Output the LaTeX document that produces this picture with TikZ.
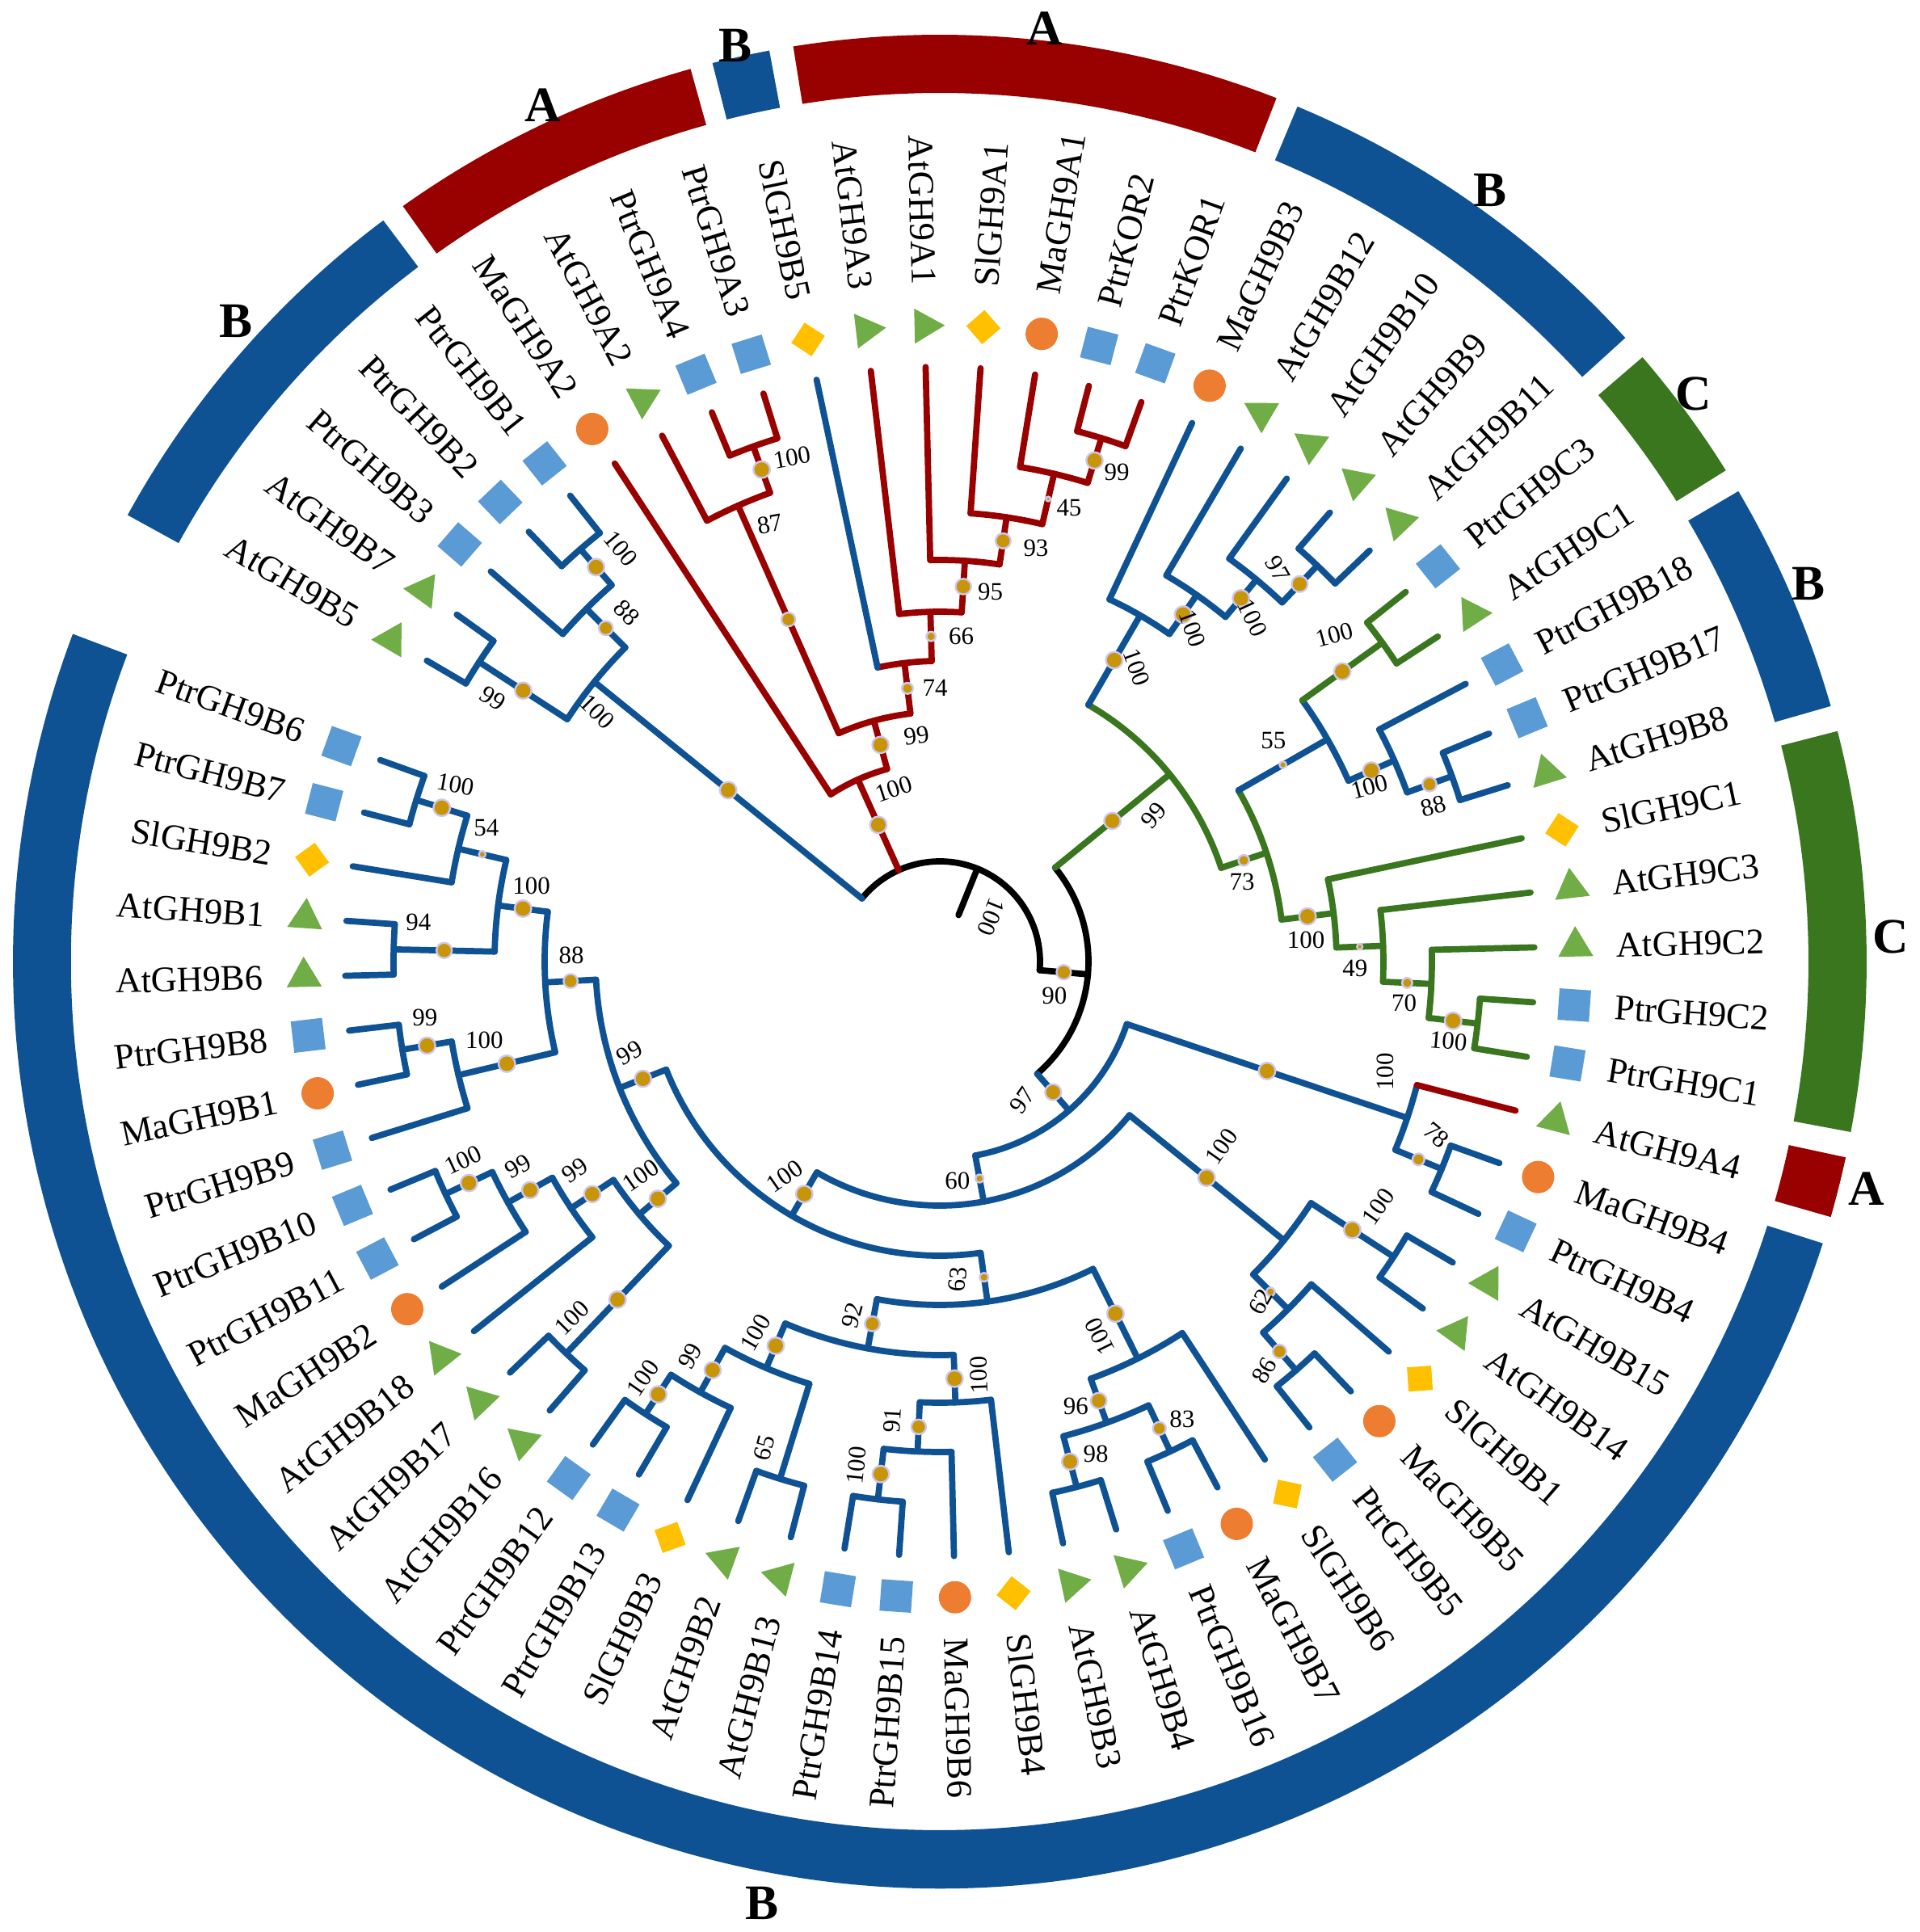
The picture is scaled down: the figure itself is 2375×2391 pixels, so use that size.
\documentclass[tikz,border=0pt]{standalone}
\usepackage{fontspec}
\setmainfont{Liberation Serif}
\usetikzlibrary{shapes.geometric}
\definecolor{cladeB}{RGB}{15,82,148}
\definecolor{cladeA}{RGB}{153,0,0}
\definecolor{cladeC}{RGB}{57,118,30}
\definecolor{atcol}{RGB}{112,173,71}
\definecolor{ptrcol}{RGB}{91,155,213}
\definecolor{slcol}{RGB}{255,192,0}
\definecolor{macol}{RGB}{237,125,49}
\definecolor{bsgold}{RGB}{200,148,8}
\definecolor{bshalo}{RGB}{205,200,238}
\tikzset{
  branch/.style={line width=2.2pt,line cap=round},
  leaf/.style={inner sep=0pt,font=\fontsize{12.65}{14}\selectfont},
  bsl/.style={inner sep=0pt,font=\fontsize{8.8}{10}\selectfont},
  clab/.style={inner sep=0pt,font=\fontsize{17.5}{20}\selectfont\bfseries},
  mkAt/.style={regular polygon,regular polygon sides=3,fill=atcol,minimum size=0.5cm,inner sep=0pt},
  mkPtr/.style={rectangle,fill=ptrcol,minimum size=0.39cm,inner sep=0pt},
  mkSl/.style={rectangle,fill=slcol,minimum size=0.30cm,inner sep=0pt,rotate=45},
  mkMa/.style={circle,fill=macol,minimum size=0.40cm,inner sep=0pt},
}
% #1 branch colour, #2 arc colour, #3 angle, #4 parent radius, #5 radius,
% #6/#7 arc ends, #8 support (0 = no dot)
\newcommand{\clade}[8]{%
  \draw[branch,#1] (#3:#4) -- (#3:#5);
  \draw[branch,#2] (#6:#5) arc[start angle=#6,end angle=#7,radius=#5];
  \ifnum#8>0\relax
    \pgfmathsetmacro\dotr{1+8*(#8-40)/60}
    \pgfmathsetmacro\halor{\dotr+2.5}
    \fill[bshalo] (#3:{(#4+#5)/2}) circle[radius=\halor];
    \fill[bsgold] (#3:{(#4+#5)/2}) circle[radius=\dotr];
  \fi}
% ring segment, r 1075..1147
\newcommand{\band}[3]{%
  \fill[#1] (#2:1075) arc[start angle=#2,end angle=#3,radius=1075]
    -- (#3:1147) arc[start angle=#3,end angle=#2,radius=1147] -- cycle;}
\begin{document}
\begin{tikzpicture}[x=0.01cm,y=0.01cm]
\useasboundingbox (-1163,-1201) rectangle (1212,1190);

% outer ring
\band{cladeB}{126.9}{151.2}
\band{cladeA}{105.6}{125.4}
\band{cladeB}{100.6}{104.2}
\band{cladeA}{68.7}{99.1}
\band{cladeB}{42.3}{67.3}
\band{cladeC}{32.0}{40.7}
\band{cladeB}{16.0}{30.5}
\band{cladeC}{-10.6}{14.4}
\band{cladeA}{-16.0}{-12.2}
\band{cladeB}{-200.7}{-17.7}
\foreach \a/\r/\t [count=\i] in {137.7/1177/B,114.9/1168/A,102.6/1162/B,83.6/1162/A,
  54.5/1172/B,37/1168/C,23.5/1172/B,1.5/1177/C,-13.8/1181/A,-100.7/1186/B}
  \node[clab] (group\i) at (\a:\r) {\t};

% root
\draw[branch,black] (141.00:124) arc[start angle=141.00,end angle=-4.94,radius=124];
\draw[branch,black] (68.03:124) -- (68.03:62);
\clade{black}{black}{-4.94}{124}{184}{39.18}{-49.06}{90}

% B, upper left
\clade{cladeB}{cladeB}{141.00}{124}{550}{146.96}{135.04}{100}
\clade{cladeB}{cladeB}{146.96}{550}{680}{149.60}{144.31}{99}
\clade{cladeB}{cladeB}{135.04}{550}{618}{139.01}{131.07}{88}
\clade{cladeB}{cladeB}{131.07}{618}{677}{133.72}{128.42}{100}

% A, top
\clade{cladeA}{cladeA}{114.22}{124}{247}{123.13}{105.31}{100}
\clade{cladeA}{cladeA}{105.31}{247}{309}{113.87}{96.75}{99}
\clade{cladeA}{cladeA}{113.87}{309}{617}{117.84}{109.90}{87}
\clade{cladeA}{cladeA}{109.90}{617}{678}{112.54}{107.25}{100}
\clade{cladeA}{cladeA}{96.75}{309}{372}{101.95}{91.54}{74}
\clade{cladeA}{cladeA}{91.54}{372}{433}{96.66}{86.41}{66}
\clade{cladeA}{cladeA}{86.41}{433}{497}{91.37}{81.44}{95}
\clade{cladeA}{cladeA}{81.44}{497}{556}{86.07}{76.81}{93}
\clade{cladeA}{cladeA}{76.81}{556}{620}{80.78}{72.84}{45}
\clade{cladeA}{cladeA}{72.84}{620}{678}{75.48}{70.19}{99}

% C and the B clades beside it
\clade{cladeC}{cladeC}{39.18}{184}{367}{59.94}{18.42}{99}
\clade{cladeB}{cladeB}{59.94}{367}{495}{64.90}{54.97}{100}
\clade{cladeB}{cladeB}{54.97}{495}{554}{59.60}{50.34}{100}
\clade{cladeB}{cladeB}{50.34}{554}{614}{54.31}{46.37}{100}
\clade{cladeB}{cladeB}{46.37}{614}{677}{49.01}{43.72}{97}
\clade{cladeC}{cladeC}{18.42}{367}{426}{29.83}{7.00}{73}
\clade{cladeB}{cladeB}{29.83}{426}{553}{35.78}{23.87}{55}
\clade{cladeC}{cladeC}{35.78}{553}{675}{38.43}{33.13}{100}
\clade{cladeB}{cladeB}{23.87}{553}{615}{27.84}{19.90}{100}
\clade{cladeB}{cladeB}{19.90}{615}{674}{22.54}{17.25}{88}
\clade{cladeC}{cladeC}{7.00}{426}{491}{11.96}{2.03}{100}
\clade{cladeC}{cladeC}{2.03}{491}{549}{6.66}{-2.61}{49}
\clade{cladeC}{cladeC}{-2.61}{549}{609}{1.37}{-6.58}{70}
\clade{cladeC}{cladeC}{-6.58}{609}{670}{-3.93}{-9.22}{100}

% B, lower half
\clade{cladeB}{cladeB}{-49.06}{184}{244}{-18.49}{-79.63}{97}
\clade{cladeB}{cladeB}{-18.49}{244}{610}{-14.51}{-22.46}{100}
\clade{cladeB}{cladeB}{-22.46}{610}{672}{-19.81}{-25.10}{78}
\clade{cladeB}{cladeB}{-79.63}{244}{302}{-39.01}{-120.24}{60}
\clade{cladeB}{cladeB}{-39.01}{302}{548}{-33.05}{-44.96}{100}
\clade{cladeB}{cladeB}{-33.05}{548}{670}{-30.40}{-35.69}{100}
\clade{cladeB}{cladeB}{-44.96}{548}{609}{-40.98}{-48.93}{62}
\clade{cladeB}{cladeB}{-48.93}{609}{671}{-46.28}{-51.57}{86}
\clade{cladeB}{cladeB}{-120.24}{302}{364}{-82.02}{-158.45}{100}
\clade{cladeB}{cladeB}{-82.02}{364}{425}{-63.49}{-100.55}{63}
\clade{cladeB}{cladeB}{-63.49}{425}{549}{-56.87}{-70.11}{100}
\clade{cladeB}{cladeB}{-70.11}{549}{607}{-64.81}{-75.40}{96}
\clade{cladeB}{cladeB}{-64.81}{607}{670}{-62.16}{-67.45}{83}
\clade{cladeB}{cladeB}{-75.40}{607}{672}{-72.75}{-78.04}{98}
\clade{cladeB}{cladeB}{-100.55}{425}{487}{-87.97}{-113.12}{92}
\clade{cladeB}{cladeB}{-87.97}{487}{546}{-83.34}{-92.60}{100}
\clade{cladeB}{cladeB}{-92.60}{546}{607}{-88.63}{-96.57}{91}
\clade{cladeB}{cladeB}{-96.57}{607}{670}{-93.92}{-99.22}{100}
\clade{cladeB}{cladeB}{-113.12}{487}{547}{-107.16}{-119.07}{100}
\clade{cladeB}{cladeB}{-107.16}{547}{670}{-104.51}{-109.81}{0}
\clade{cladeB}{cladeB}{-119.07}{547}{610}{-115.10}{-123.04}{99}
\clade{cladeB}{cladeB}{-123.04}{610}{668}{-120.39}{-125.69}{100}
\clade{cladeB}{cladeB}{-158.45}{364}{426}{-139.92}{-176.98}{99}
\clade{cladeB}{cladeB}{-139.92}{426}{486}{-133.63}{-146.21}{100}
\clade{cladeB}{cladeB}{-133.63}{486}{670}{-130.98}{-136.28}{100}
\clade{cladeB}{cladeB}{-146.21}{486}{549}{-141.57}{-150.84}{99}
\clade{cladeB}{cladeB}{-150.84}{549}{612}{-146.86}{-154.81}{99}
\clade{cladeB}{cladeB}{-154.81}{612}{676}{-152.16}{-157.45}{100}
\clade{cladeB}{cladeB}{-176.98}{426}{489}{-166.72}{-187.24}{88}
\clade{cladeB}{cladeB}{-166.72}{489}{612}{-162.75}{-170.69}{100}
\clade{cladeB}{cladeB}{-170.69}{612}{674}{-168.04}{-173.33}{99}
\clade{cladeB}{cladeB}{-187.24}{489}{551}{-181.28}{-193.19}{100}
\clade{cladeB}{cladeB}{-181.28}{551}{676}{-178.63}{-183.92}{94}
\clade{cladeB}{cladeB}{-193.19}{551}{612}{-189.22}{-197.16}{54}
\clade{cladeB}{cladeB}{-197.16}{612}{678}{-194.51}{-199.80}{100}

% support values
\foreach \a/\r/\t/\v [count=\i] in {
  40.7/84/-112/100, -16.5/148/0/90, -59.3/200/55/97,
  143.9/525/-45/100, 131.9/580/-45/88, 127.7/646/-50/100, 149.5/642/-33/99,
  104.9/221/18/100, 95.9/281/8/99, 111.2/581/10/87, 106.3/650/10/100,
  91/339/0/74, 86.2/403/0/66, 82.2/462/0/95, 76.9/525/0/93, 74.1/584/0/45, 70.1/644/0/99,
  34.3/321/50/99, 56.2/438/-70/100, 52.8/517/-70/100, 47.7/575/-65/100, 49.3/641/-60/97,
  14.8/387/0/73, 33.5/495/0/55, 39.6/634/15/100, 22.1/574/15/100, 17.5/641/15/88,
  3.4/454/0/100, -0.9/514/0/49, -5.1/577/0/70, -8.9/637/-5/100,
  -13.9/568/90/100, -19.3/651/-40/78, -85.4/272/0/60, -125.8/328/35/100,
  -33.3/417/55/100, -29.2/622/55/100, -46.7/579/60/62, -51.6/646/60/86,
  -86.8/394/85/63, -103.9/451/75/92, -116.4/513/60/100, -122.3/578/60/99,
  -125.5/633/55/100, -109.8/640/75/65, -84.6/514/92/100, -95.9/571/87/91,
  -99.4/632/84/100, -66.9/504/116/100, -73/576/0/96, -72.4/639/0/98, -62.1/641/0/83,
  -163.6/400/30/99, 179.1/456/0/88, 169.5/514/0/100, 163.6/585/0/54,
  159.9/638/-10/100, 175.7/647/0/94, -170.2/572/0/100, -173.8/641/0/99,
  -144.4/455/35/100, -150.2/520/35/99, -154.1/580/30/99, -157.4/639/25/100,
  -135.9/634/45/100}
  \node[bsl,rotate=\t] (bs\i) at (\a:\r) {\v};

% leaves: slot, name, marker, parent radius, colour
\foreach \k/\nm/\sp/\rp/\col in {
  0/AtGH9B5/mkAt/680/cladeB, 1/AtGH9B7/mkAt/680/cladeB, 2/PtrGH9B3/mkPtr/618/cladeB,
  3/PtrGH9B2/mkPtr/677/cladeB, 4/PtrGH9B1/mkPtr/677/cladeB, 5/MaGH9A2/mkMa/247/cladeA,
  6/AtGH9A2/mkAt/617/cladeA, 7/PtrGH9A4/mkPtr/678/cladeA, 8/PtrGH9A3/mkPtr/678/cladeA,
  9/SlGH9B5/mkSl/372/cladeB, 10/AtGH9A3/mkAt/433/cladeA, 11/AtGH9A1/mkAt/497/cladeA,
  12/SlGH9A1/mkSl/556/cladeA, 13/MaGH9A1/mkMa/620/cladeA, 14/PtrKOR2/mkPtr/678/cladeA,
  15/PtrKOR1/mkPtr/678/cladeA, 16/MaGH9B3/mkMa/495/cladeB, 17/AtGH9B12/mkAt/554/cladeB,
  18/AtGH9B10/mkAt/614/cladeB, 19/AtGH9B9/mkAt/677/cladeB, 20/AtGH9B11/mkAt/677/cladeB,
  21/PtrGH9C3/mkPtr/675/cladeC, 22/AtGH9C1/mkAt/675/cladeC, 23/PtrGH9B18/mkPtr/615/cladeB,
  24/PtrGH9B17/mkPtr/674/cladeB, 25/AtGH9B8/mkAt/674/cladeB, 26/SlGH9C1/mkSl/491/cladeC,
  27/AtGH9C3/mkAt/549/cladeC, 28/AtGH9C2/mkAt/609/cladeC, 29/PtrGH9C2/mkPtr/670/cladeC,
  30/PtrGH9C1/mkPtr/670/cladeC, 31/AtGH9A4/mkAt/610/cladeA, 32/MaGH9B4/mkMa/672/cladeB,
  33/PtrGH9B4/mkPtr/672/cladeB, 34/AtGH9B15/mkAt/670/cladeB, 35/AtGH9B14/mkAt/670/cladeB,
  36/SlGH9B1/mkSl/609/cladeB, 37/MaGH9B5/mkMa/671/cladeB, 38/PtrGH9B5/mkPtr/671/cladeB,
  39/SlGH9B6/mkSl/549/cladeB, 40/MaGH9B7/mkMa/670/cladeB, 41/PtrGH9B16/mkPtr/670/cladeB,
  42/AtGH9B4/mkAt/672/cladeB, 43/AtGH9B3/mkAt/672/cladeB, 44/SlGH9B4/mkSl/546/cladeB,
  45/MaGH9B6/mkMa/607/cladeB, 46/PtrGH9B15/mkPtr/670/cladeB, 47/PtrGH9B14/mkPtr/670/cladeB,
  48/AtGH9B13/mkAt/670/cladeB, 49/AtGH9B2/mkAt/670/cladeB, 50/SlGH9B3/mkSl/610/cladeB,
  51/PtrGH9B13/mkPtr/668/cladeB, 52/PtrGH9B12/mkPtr/668/cladeB, 53/AtGH9B16/mkAt/670/cladeB,
  54/AtGH9B17/mkAt/670/cladeB, 55/AtGH9B18/mkAt/549/cladeB, 56/MaGH9B2/mkMa/612/cladeB,
  57/PtrGH9B11/mkPtr/676/cladeB, 58/PtrGH9B10/mkPtr/676/cladeB, 59/PtrGH9B9/mkPtr/612/cladeB,
  60/MaGH9B1/mkMa/674/cladeB, 61/PtrGH9B8/mkPtr/674/cladeB, 62/AtGH9B6/mkAt/676/cladeB,
  63/AtGH9B1/mkAt/676/cladeB, 64/SlGH9B2/mkSl/612/cladeB, 65/PtrGH9B7/mkPtr/678/cladeB,
  66/PtrGH9B6/mkPtr/678/cladeB}
{
  \pgfmathsetmacro\ang{149.6-5.294*\k}
  \pgfmathtruncatemacro\lft{(\ang>90 || \ang<-90) ? 1 : 0}
  \ifnum\lft=1 \pgfmathsetmacro\rot{\ang+180}\def\anc{east}\else\pgfmathsetmacro\rot{\ang}\def\anc{west}\fi
  \draw[branch,\col] (\ang:\rp) -- (\ang:736);
  \node[\sp,rotate=\rot] (m\k) at (\ang:787) {};
  \node[leaf,anchor=\anc,rotate=\rot] (\nm) at (\ang:837) {\nm};
}
\end{tikzpicture}
\end{document}
